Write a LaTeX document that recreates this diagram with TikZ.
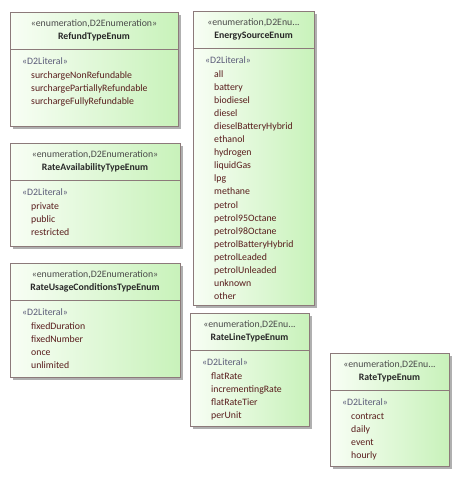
\documentclass[tikz,border=0pt]{standalone}
\usepackage{fontspec}
\setmainfont{Carlito}
\definecolor{boxborder}{RGB}{140,122,122}
\definecolor{boxshadow}{RGB}{176,176,176}
\definecolor{boxleft}{RGB}{248,254,245}
\definecolor{boxright}{RGB}{200,242,186}
\definecolor{stereocol}{RGB}{75,75,75}
\definecolor{namecol}{RGB}{40,40,40}
\definecolor{litcol}{RGB}{90,90,120}
\definecolor{itemcol}{RGB}{88,28,28}
\tikzset{
  txt/.style={inner sep=0pt, text height=7pt, text depth=2pt, font=\fontsize{9.8}{11}\selectfont},
  stereo/.style={txt, text=stereocol},
  title/.style={txt, text=namecol, font=\fontsize{9.8}{11}\selectfont\bfseries},
  literal/.style={txt, text=litcol, anchor=west},
  item/.style={txt, text=itemcol, anchor=west},
  enumbody/.style={draw=boxborder, line width=0.9pt, left color=boxleft, right color=boxright,
    inner sep=0pt, anchor=north west},
  divider/.style={draw=boxborder, line width=0.9pt},
  shadowbox/.style={fill=boxshadow}
}
% #1 name, #2 left, #3 top, #4 right, #5 bottom, #6 stereotype, #7 title, #8 items
\newcommand\enumbox[8]{%
  \fill[shadowbox] ({#2+3},{#3+3}) rectangle ({#4+3},{#5+3});
  \node[enumbody, minimum width={(#4-#2)*1pt}, minimum height={(#5-#3)*1pt}] (#1) at (#2,#3) {};
  \node[stereo] (#1-st) at ({(#2+#4)/2},{#3+12}) {#6};
  \node[title] (#1-nm) at ({(#2+#4)/2},{#3+25}) {#7};
  \draw[divider] (#1.west |- 0,{#3+37}) coordinate (#1-dl) -- (#1.east |- 0,{#3+37}) coordinate (#1-dr);
  \node[literal] (#1-lit) at ({#2+12},{#3+50}) {«D2Literal»};
  \foreach \t [count=\i from 0] in {#8} {
    \node[item] (#1-i\i) at ({#2+21},{#3+64+13.05*\i}) {\t};
  }
}
\begin{document}
\begin{tikzpicture}[x=1pt,y=-1pt]
\useasboundingbox (0,0) rectangle (460,477);
\enumbox{refund}{10}{12}{178}{126}{«enumeration,D2Enumeration»}{RefundTypeEnum}
  {surchargeNonRefundable,surchargePartiallyRefundable,surchargeFullyRefundable}
\enumbox{avail}{10}{143}{180}{246}{«enumeration,D2Enumeration»}{RateAvailabilityTypeEnum}
  {private,public,restricted}
\enumbox{usage}{10}{263}{180}{377}{«enumeration,D2Enumeration»}{RateUsageConditionsTypeEnum}
  {fixedDuration,fixedNumber,once,unlimited}
\enumbox{energy}{193}{11}{314}{305}{«enumeration,D2Enu...}{EnergySourceEnum}
  {all,battery,biodiesel,diesel,dieselBatteryHybrid,ethanol,hydrogen,liquidGas,lpg,methane,petrol,petrol95Octane,petrol98Octane,petrolBatteryHybrid,petrolLeaded,petrolUnleaded,unknown,other}
\enumbox{rateline}{190}{313}{309}{426}{«enumeration,D2Enu...}{RateLineTypeEnum}
  {flatRate,incrementingRate,flatRateTier,perUnit}
\enumbox{ratetype}{330}{353}{449}{466}{«enumeration,D2Enu...}{RateTypeEnum}
  {contract,daily,event,hourly}
\end{tikzpicture}
\end{document}
